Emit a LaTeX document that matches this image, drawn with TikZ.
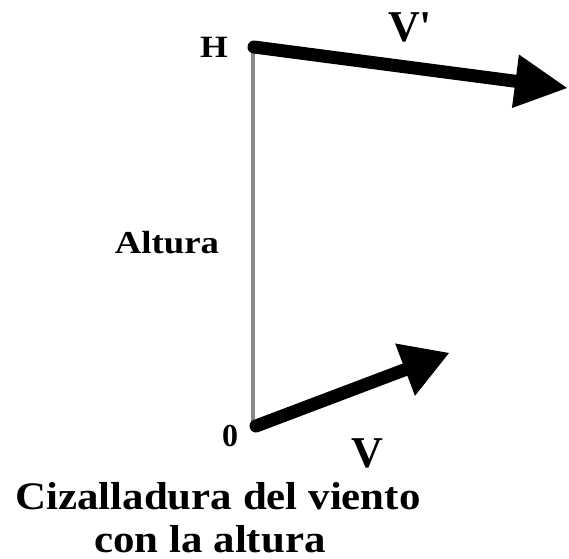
\documentclass[tikz,border=0pt]{standalone}
\usepackage{fontspec}
\setmainfont{Liberation Serif}
\newfontfamily\widefont[FakeStretch=1.15]{Liberation Serif}
\newfontfamily\titlefont[FakeStretch=1.1]{Liberation Serif}
\newfontfamily\plainquote[Ligatures=TeXOff]{Liberation Serif}
\usetikzlibrary{arrows.meta}
\begin{document}
\begin{tikzpicture}[x=1pt,y=-1pt,
  vec/.style={line width=13pt,line cap=round},
  lbl/.style={inner sep=0pt},
  ttl/.style={inner sep=0pt,anchor=base},
  axis/.style={draw=black!47,line width=4.5pt}]
\useasboundingbox (0,0) rectangle (569,558);
\coordinate (Htop) at (253,45);
\coordinate (Hbot) at (253,428);
\coordinate (H) at (254,47);
\coordinate (O) at (256,426);
\coordinate (Vptip) at (567,88);
\coordinate (Vtip) at (449,353);
\draw[axis] (Htop) -- (Hbot);
\draw[vec,-{Triangle[length=52pt,width=54pt,line width=0pt]}] (H) -- (Vptip);
\draw[vec,-{Triangle[length=47pt,width=56pt,line width=0pt]}] (O) -- (Vtip);
\node[lbl,font=\widefont\fontsize{31}{31}\bfseries\selectfont] (hl) at (214,47) {H};
\node[lbl,font=\plainquote\fontsize{44}{44}\bfseries\selectfont] (vpl) at (410,27) {V'};
\node[lbl,font=\fontsize{32}{32}\bfseries\selectfont] (ol) at (230,436) {0};
\node[lbl,font=\fontsize{44}{44}\bfseries\selectfont] (vl) at (367,453) {V};
\node[lbl,font=\widefont\fontsize{32}{32}\bfseries\selectfont] (alt) at (167,243) {Altura};
\node[ttl,font=\titlefont\fontsize{39}{39}\bfseries\selectfont] (t1) at (218,509) {Cizalladura del viento};
\node[ttl,font=\titlefont\fontsize{39}{39}\bfseries\selectfont] (t2) at (210,552) {con la altura};
\end{tikzpicture}
\end{document}
